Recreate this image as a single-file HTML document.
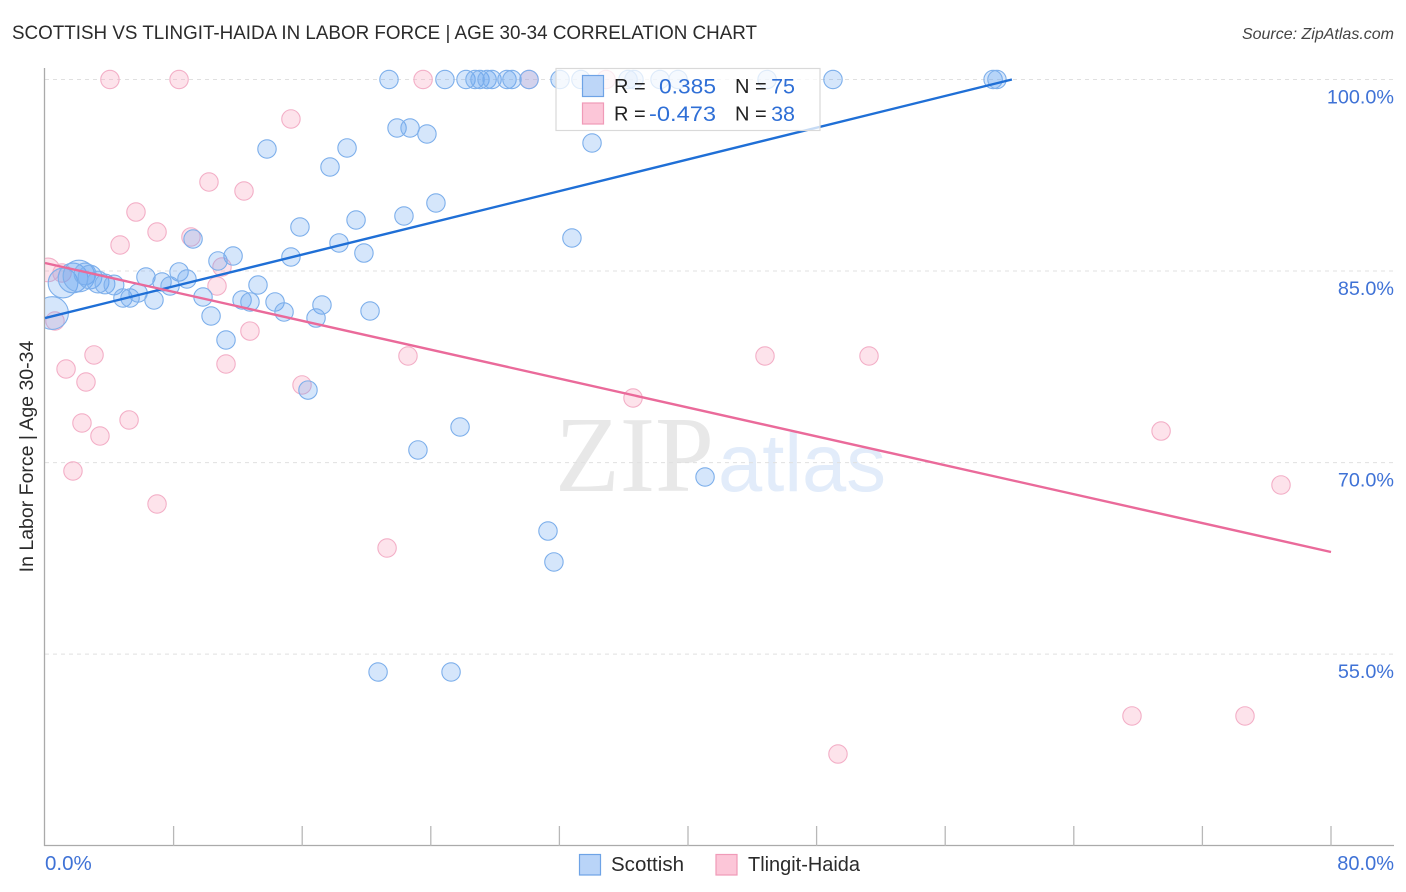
<!DOCTYPE html>
<html lang="en">
<head>
<meta charset="utf-8">
<title>Scottish vs Tlingit-Haida in Labor Force | Age 30-34 Correlation Chart</title>
<style>
html,body{margin:0;padding:0;background:#fff;width:1406px;height:892px;overflow:hidden}
svg{display:block;font-family:"Liberation Sans",sans-serif}
</style>
</head>
<body>
<svg id="chart" xmlns="http://www.w3.org/2000/svg" width="1406" height="892" viewBox="0 0 1406 892">
  <defs><clipPath id="plot-clip"><rect x="45" y="60" width="1349" height="786"/></clipPath></defs>
  <rect x="0" y="0" width="1406" height="892" fill="#fff"/>
  <text x="12" y="39" font-size="19.5" fill="#2b2b2b" textLength="745" lengthAdjust="spacingAndGlyphs">SCOTTISH VS TLINGIT-HAIDA IN LABOR FORCE | AGE 30-34 CORRELATION CHART</text>
  <text x="1394" y="39" font-size="16" font-style="italic" fill="#444" text-anchor="end">Source: ZipAtlas.com</text>
  <g>
    <text x="555" y="491" font-family="'Liberation Serif',serif" font-size="108" fill="#e8e8e8" textLength="159" lengthAdjust="spacingAndGlyphs">ZIP</text>
    <text x="718" y="491" font-size="82" fill="#e2ecfa" textLength="168" lengthAdjust="spacingAndGlyphs">atlas</text>
  </g>
  <g id="grid"></g>
  <g id="axes"></g>
  <g id="points" clip-path="url(#plot-clip)"></g>
  <g id="trends"></g>
  <g id="ticklabels"></g>
  <text transform="translate(33,456.5) rotate(-90)" font-size="19.5" fill="#2b2b2b" text-anchor="middle">In Labor Force | Age 30-34</text>
  <g>
    <rect x="556" y="68.5" width="264" height="62" fill="#fff" fill-opacity="0.75" stroke="#d9d9d9" stroke-width="1.2"/>
    <rect x="582.5" y="75.5" width="21" height="21" fill="#b9d4f8" fill-opacity="0.95" stroke="#6ea3e6" stroke-width="1.2"/>
    <rect x="582.5" y="103" width="21" height="21" fill="#fcc6d8" stroke="#f09ab8" stroke-width="1.2"/>
    <g font-size="20" fill="#222">
      <text x="614" y="93">R =</text>
      <text x="735" y="93">N =</text>
      <text x="614" y="120.5">R =</text>
      <text x="735" y="120.5">N =</text>
    </g>
    <g font-size="21.5" fill="#2f6fd6">
      <text x="716" y="93.5" text-anchor="end" textLength="57" lengthAdjust="spacingAndGlyphs">0.385</text>
      <text x="795" y="93.5" text-anchor="end">75</text>
      <text x="716" y="121" text-anchor="end" textLength="67" lengthAdjust="spacingAndGlyphs">-0.473</text>
      <text x="795" y="121" text-anchor="end">38</text>
    </g>
  </g>
  <g>
    <rect x="579.5" y="854.5" width="21" height="20.5" fill="#b9d4f8" stroke="#6ea3e6" stroke-width="1.2"/>
    <text x="611" y="871" font-size="20" fill="#2b2b2b" textLength="73" lengthAdjust="spacingAndGlyphs">Scottish</text>
    <rect x="716" y="854.5" width="21" height="20.5" fill="#fcc6d8" stroke="#f09ab8" stroke-width="1.2"/>
    <text x="748" y="871" font-size="20" fill="#2b2b2b" textLength="112" lengthAdjust="spacingAndGlyphs">Tlingit-Haida</text>
  </g>
</svg>
<script>
// Chart data: labor force participation (%) against x-axis share (%)
const yTickValues = [100, 85, 70, 55];
const yTickLabels = ["100.0%", "85.0%", "70.0%", "55.0%"];
const xTickValues = [8, 16, 24, 32, 40, 48, 56, 64, 72, 80];
const xEndLabels = ["0.0%", "80.0%"];

const scottishX = [0.44,1.12,1.74,2.11,2.49,2.80,3.30,3.73,4.29,
  21.40,24.88,26.19,26.75,27.06,27.50,27.81,28.74,29.05,30.11,32.04,33.34,36.27,36.64,38.26,39.38,44.92,49.02,58.98,59.22,
  21.90,22.71,23.76,34.03,13.81,18.79,17.73,24.32,22.33,19.35,15.86,32.78,9.21,18.29,11.70,15.30,19.84,10.76,8.34,6.28,8.83,7.28,7.78,13.25,4.85,5.29,5.79,6.78,9.83,12.26,12.75,14.31,14.87,17.23,16.86,20.22,10.33,11.26,16.36,25.82,23.20,41.06,31.29,31.66,20.72,25.26];
const scottishY = [81.71,84.06,84.46,84.61,84.77,84.53,84.14,83.99,83.91,
  100,100,100,100,100,100,100,100,100,100,100,100,100,100,100,100,100,100,100,100,
  96.20,96.20,95.73,95.03,94.56,94.64,93.15,90.33,89.31,89.00,88.45,87.59,87.51,87.20,86.18,86.10,86.41,85.79,84.93,84.53,84.38,84.14,83.83,83.91,82.89,82.89,83.28,82.73,82.97,82.73,82.58,82.58,81.79,82.34,81.32,81.87,81.48,79.60,75.68,72.79,70.99,68.87,64.64,62.22,53.60,53.60];
const scottishWeight = [3.15,2.6,2.6,2.96,1.4,1.66,1.4,1.16,1.16];

const tlingitX = [0.19,1.06,0.62,4.04,8.34,23.52,30.11,34.90,15.30,10.20,12.38,5.66,6.97,4.67,9.08,11.01,10.70,12.75,11.26,3.05,1.31,2.55,15.99,22.58,5.23,2.30,3.42,1.74,6.97,21.28,36.58,44.79,51.26,69.43,76.89,67.62,74.65,49.33];
const tlingitY = [85.09,84.85,81.09,100,100,100,100,100,96.91,91.97,91.27,89.62,88.06,87.04,87.67,85.32,83.83,80.30,77.72,78.43,77.33,76.31,76.08,78.35,73.34,73.10,72.08,69.34,66.76,63.31,75.06,78.35,78.35,72.47,68.25,50.16,50.16,47.18];
const tlingitWeight = [1.66];

const scottishTrendX = [0, 60.15];
const scottishTrendY = [81.32, 100];
const tlingitTrendX = [0, 80];
const tlingitTrendY = [85.63, 63.0];

// Axis functions
const xScale = v => 45 + v * 16.075;
const yScale = v => 79.5 + (100 - v) * 12.77;
const rScale = w => 9.2 * Math.sqrt(w);

const NS = 'http://www.w3.org/2000/svg';
function make(parent, tag, attrs, text) {
  const el = document.createElementNS(NS, tag);
  for (const k in attrs) el.setAttribute(k, attrs[k]);
  if (text !== undefined) el.textContent = text;
  parent.appendChild(el);
  return el;
}
const gGrid = document.getElementById('grid');
const gAxes = document.getElementById('axes');
const gPoints = document.getElementById('points');
const gTrends = document.getElementById('trends');
const gLabels = document.getElementById('ticklabels');

yTickValues.forEach((v, i) => {
  const line = make(gGrid, 'line', {x1: 45, x2: 1394, y1: yScale(v), y2: yScale(v), stroke: '#e0e0e0', 'stroke-width': 1, 'stroke-dasharray': '4 4'});
  
  
  const label = make(gLabels, 'text', {x: 1394, y: yScale(v) + 24, 'font-size': 19.8, fill: '#3f72d6', 'text-anchor': 'end'}, yTickLabels[i]);
  
  
});

const yAxis = make(gAxes, 'line', {x1: 44.5, x2: 44.5, y1: 68, y2: 846, stroke: '#aaaaaa', 'stroke-width': 1.3});


const xAxis = make(gAxes, 'line', {x1: 44, x2: 1394, y1: 845.5, y2: 845.5, stroke: '#aaaaaa', 'stroke-width': 1.3});


xTickValues.forEach(v => {
  const tick = make(gAxes, 'line', {x1: xScale(v), x2: xScale(v), y1: 826, y2: 846, stroke: '#b8b8b8', 'stroke-width': 1.3});
  
  
});
const xLabelLeft = make(gLabels, 'text', {x: 45, y: 870, 'font-size': 20.5, fill: '#3f72d6'}, xEndLabels[0]);


const xLabelRight = make(gLabels, 'text', {x: 1394, y: 870, 'font-size': 20, fill: '#3f72d6', 'text-anchor': 'end'}, xEndLabels[1]);



tlingitX.forEach((x, i) => {
  const c = make(gPoints, 'circle', {cx: xScale(x), cy: yScale(tlingitY[i]), r: rScale(tlingitWeight[i] ?? 1), fill: 'rgba(250,170,195,0.33)', stroke: '#f3afc7', 'stroke-width': 1.1});
  
  
});
scottishX.forEach((x, i) => {
  const c = make(gPoints, 'circle', {cx: xScale(x), cy: yScale(scottishY[i]), r: rScale(scottishWeight[i] ?? 1), fill: 'rgba(105,165,240,0.28)', stroke: '#7dafeb', 'stroke-width': 1.1});
  
  
});

const scottishLine = make(gTrends, 'line', {x1: xScale(scottishTrendX[0]), y1: yScale(scottishTrendY[0]), x2: xScale(scottishTrendX[1]), y2: yScale(scottishTrendY[1]), stroke: '#1f6fd6', 'stroke-width': 2.4});


const tlingitLine = make(gTrends, 'line', {x1: xScale(tlingitTrendX[0]), y1: yScale(tlingitTrendY[0]), x2: xScale(tlingitTrendX[1]), y2: yScale(tlingitTrendY[1]), stroke: '#ea6a9a', 'stroke-width': 2.4});


</script>
</body>
</html>
